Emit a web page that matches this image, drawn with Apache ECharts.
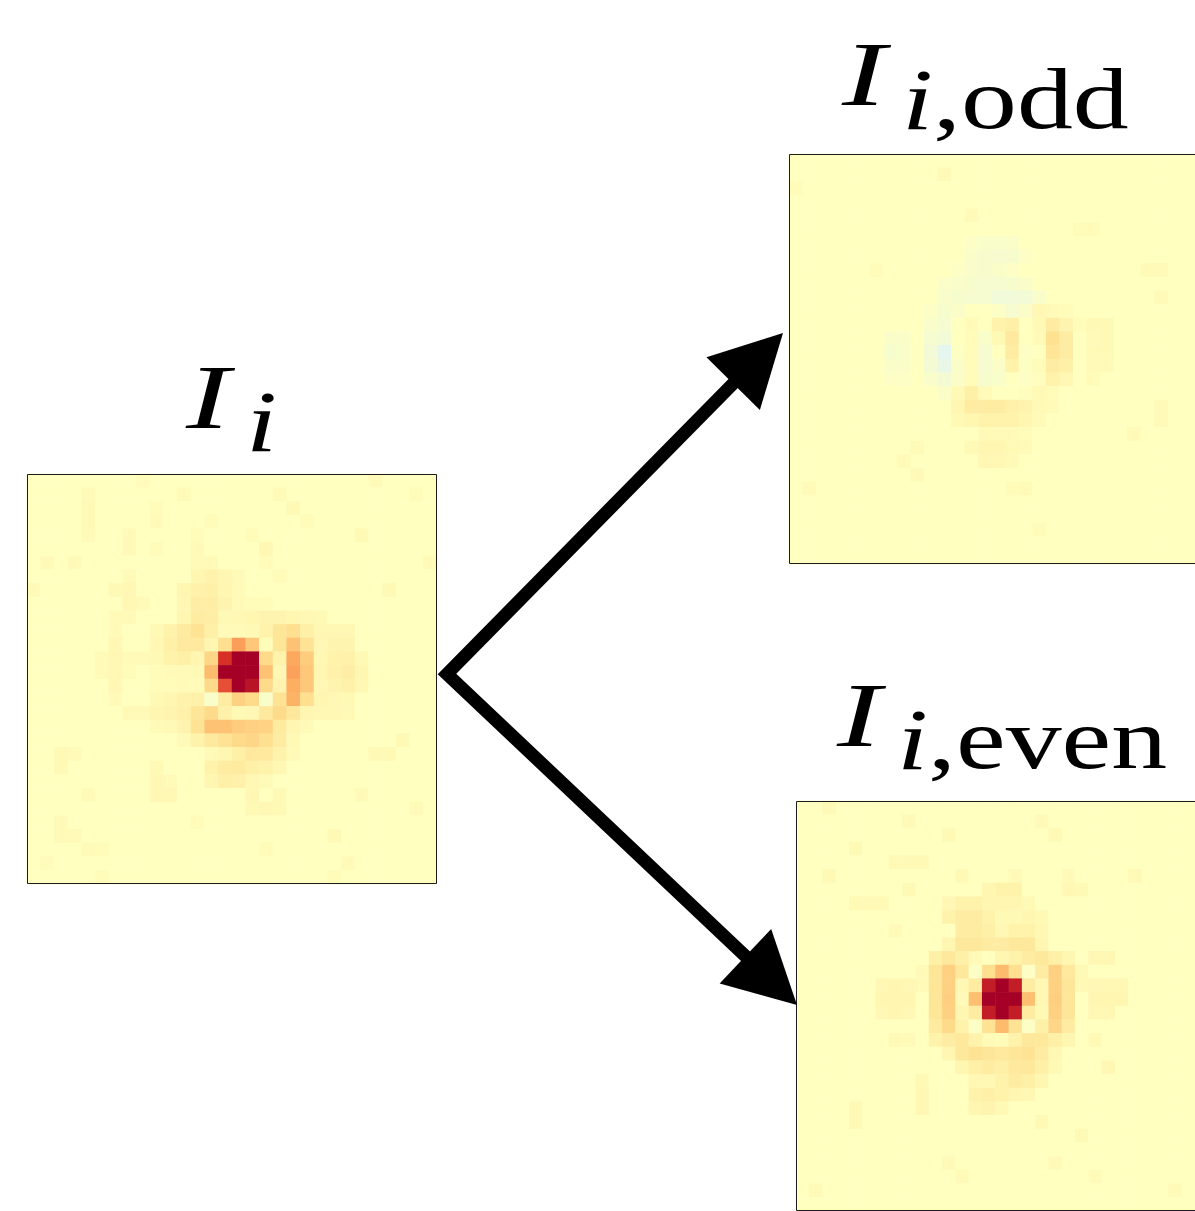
<!DOCTYPE html>
<html>
<head>
<meta charset="utf-8">
<title>Odd / even decomposition</title>
<script src="https://cdn.jsdelivr.net/npm/echarts@6/dist/echarts.min.js"></script>
<style>
  html, body { margin: 0; padding: 0; background: #ffffff; }
  #chart { width: 1195px; height: 1211px; }
</style>
</head>
<body>
<div id="chart"></div>
<script>
// 30 x 30 response maps, values in percent of the colour-scale limit (row 0 = top row)
const cellIndex = Array.from({ length: 30 }, (_, i) => i);

const inputRows = [
  [0,0,0,0,0,0,0,0,2,0,  0,0,0,0,0,0,0,0,0,0,  0,0,0,0,0,3,0,0,0,0],
  [0,0,0,0,3,0,0,0,0,0,  0,3,0,0,0,0,0,0,3,0,  0,0,0,0,0,0,0,0,2,0],
  [0,0,0,0,4,0,0,0,0,2,  0,0,0,0,0,0,0,0,0,4,  0,0,0,0,0,0,0,0,0,0],
  [0,0,0,0,4,0,0,0,0,3,  0,0,0,2,0,0,0,0,0,0,  2,0,0,0,0,0,0,0,0,0],
  [0,0,0,0,3,0,0,3,0,0,  0,0,2,0,0,0,2,0,0,0,  0,0,0,0,4,0,0,0,0,0],
  [0,0,0,0,0,0,0,3,0,2,  0,0,3,0,0,0,0,5,0,0,  0,0,0,0,0,0,0,0,0,0],
  [0,3,0,3,0,0,0,0,0,0,  0,0,3,3,0,0,0,2,0,0,  0,0,0,0,0,0,0,0,0,3],
  [0,0,0,0,0,0,0,3,0,0,  0,0,6,8,6,3,0,0,2,0,  0,0,0,0,0,0,0,0,0,0],
  [3,0,0,0,0,0,4,5,0,0,  0,6,9,10,6,3,0,0,0,0,  0,0,0,0,0,0,4,0,0,0],
  [0,0,0,0,0,0,0,5,3,0,  0,5,11,11,7,3,2,2,0,0,  0,0,0,0,0,0,0,0,0,0],
  [0,0,0,0,0,0,3,3,0,0,  0,6,12,11,4,5,6,7,7,6,  5,4,0,0,0,0,0,0,0,0],
  [0,0,0,0,0,0,3,0,0,4,  8,13,18,10,3,3,4,8,16,20,  10,5,5,5,0,0,0,0,0,0],
  [0,0,0,0,0,0,5,0,0,5,  10,14,14,6,20,45,30,2,16,32,  18,5,7,7,0,0,0,0,0,0],
  [0,0,0,0,0,3,5,3,3,4,  8,10,6,24,80,100,100,22,8,42,  28,5,8,9,4,0,0,0,0,0],
  [0,0,0,0,0,3,5,2,0,2,  3,3,4,35,100,100,100,32,5,44,  30,6,9,11,6,0,0,0,0,0],
  [0,0,0,0,0,0,5,0,0,2,  2,3,2,22,70,100,92,22,7,40,  30,5,7,9,5,0,0,0,0,0],
  [0,0,0,0,0,0,3,0,0,4,  6,8,9,-4,12,26,22,-4,18,38,  20,6,5,4,0,0,0,0,0,0],
  [0,0,0,0,0,0,0,4,4,6,  7,9,16,22,9,4,5,14,22,15,  6,5,5,4,0,0,0,0,0,0],
  [0,0,0,0,0,0,0,0,0,3,  4,7,18,32,32,28,26,25,13,6,  3,0,0,0,0,0,0,0,0,0],
  [0,0,0,0,0,0,0,0,0,0,  0,3,8,14,18,22,24,20,12,4,  0,0,0,0,0,0,0,4,0,0],
  [0,0,4,3,0,0,0,0,0,0,  0,0,0,3,6,10,14,14,8,3,  0,0,0,0,0,4,4,0,0,0],
  [0,0,4,0,0,0,0,0,0,4,  0,0,0,8,12,13,10,8,5,0,  0,0,0,0,0,0,0,0,0,0],
  [0,0,0,0,0,0,0,0,0,5,  3,0,0,6,10,9,5,3,0,0,  0,0,0,0,0,0,0,0,0,0],
  [0,0,0,0,3,0,0,0,0,5,  5,0,0,0,0,0,5,0,4,0,  0,0,0,0,3,0,0,0,0,0],
  [0,0,0,0,0,0,0,0,0,0,  0,0,0,0,0,0,4,5,4,0,  0,0,0,0,0,0,0,0,3,0],
  [0,0,3,0,0,0,0,0,0,0,  0,0,2,0,0,0,0,0,0,0,  0,0,0,0,0,0,0,0,0,0],
  [0,0,3,3,0,0,0,0,0,0,  0,0,0,0,0,0,0,0,0,0,  0,0,4,0,0,0,0,0,0,0],
  [0,0,0,0,3,2,0,0,0,0,  0,0,0,0,0,0,0,2,0,0,  0,0,0,0,0,0,0,0,0,0],
  [0,2,0,0,0,0,0,0,0,0,  0,0,0,0,0,0,0,0,0,0,  0,0,0,3,0,0,0,0,0,0],
  [0,0,0,0,0,2,0,0,0,0,  0,0,0,0,0,0,0,0,0,0,  0,0,2,0,0,0,0,0,0,0]
];

const oddRows = [
  [0,0,0,0,0,0,0,0,0,0,  0,0,0,0,0,0,0,0,0,0,  0,0,0,0,0,0,0,0,0,0],
  [0,0,0,0,0,0,0,0,0,0,  0,3,0,0,0,0,0,0,0,0,  0,0,0,0,0,0,0,0,0,0],
  [2,0,0,0,0,0,0,0,0,0,  0,0,0,0,0,0,0,0,0,0,  0,0,0,0,0,0,0,0,0,0],
  [0,0,0,0,0,0,0,0,0,0,  0,0,0,0,0,0,0,0,0,0,  0,0,0,0,0,0,0,0,0,0],
  [0,0,0,0,0,0,0,0,0,0,  0,0,0,3,0,0,0,0,0,0,  0,0,0,0,0,0,0,0,0,0],
  [0,0,0,0,0,0,0,0,0,0,  0,0,0,0,0,0,0,0,0,0,  0,2,2,0,0,0,0,0,0,0],
  [0,0,0,0,0,0,0,0,0,0,  0,0,0,-2,-4,-4,-3,0,0,0,  0,0,0,0,0,0,0,0,0,0],
  [0,0,0,0,0,0,0,0,0,0,  0,0,0,-4,-5,-6,-5,-2,0,0,  0,0,0,0,0,0,0,0,0,0],
  [0,0,0,0,0,0,2,0,0,0,  0,0,-2,-4,-5,-3,-2,0,0,0,  0,0,0,0,0,0,3,3,0,0],
  [0,0,0,0,0,0,0,0,0,0,  0,-3,-4,-5,-6,-6,-5,-3,0,0,  0,0,0,0,0,0,0,0,0,0],
  [0,0,0,0,0,0,0,0,0,0,  0,-4,-5,-6,-6,-9,-9,-8,-4,0,  0,0,0,0,0,0,0,3,0,0],
  [0,0,0,0,0,0,0,0,0,0,  -2,-5,-3,0,0,-2,-6,-3,5,3,  2,0,0,0,0,0,0,0,0,0],
  [0,0,0,0,0,0,0,0,0,0,  -4,-6,0,3,0,8,10,0,4,12,  7,2,4,4,0,0,0,0,0,0],
  [0,0,0,0,0,0,0,-3,-3,0,  -6,-8,0,2,-4,4,14,0,3,19,  12,0,3,4,0,0,0,0,0,0],
  [0,0,0,0,0,0,0,-5,-4,0,  -8,-17,-1,2,-6,0,12,-2,0,17,  12,0,4,4,0,0,0,0,0,0],
  [0,0,0,0,0,0,0,-3,-3,0,  -7,-14,-3,2,-6,-3,8,-1,2,12,  10,0,3,3,0,0,0,0,0,0],
  [0,0,0,0,0,0,0,-2,-2,0,  -4,-7,-3,2,-5,-4,0,-2,1,8,  5,0,2,0,0,0,0,0,0,0],
  [0,0,0,0,0,0,0,0,0,0,  0,-3,4,10,3,0,0,1,4,2,  0,0,0,0,0,0,0,0,0,0],
  [0,0,0,0,0,0,0,0,0,0,  0,0,6,12,12,12,9,7,4,3,  0,0,0,0,0,0,0,3,0,0],
  [0,0,0,0,0,0,0,0,0,0,  0,0,4,6,8,8,8,6,3,0,  0,0,0,0,0,0,0,3,0,0],
  [0,0,0,0,0,0,0,0,0,0,  0,0,0,0,3,3,3,2,0,0,  0,0,0,0,0,3,0,0,0,0],
  [0,0,0,0,0,0,0,0,0,3,  0,0,0,4,6,6,4,3,0,0,  0,0,0,0,0,0,0,0,0,0],
  [0,0,0,0,0,0,0,0,3,0,  0,0,0,0,5,5,3,0,0,0,  0,0,0,0,0,0,0,0,0,0],
  [0,0,0,0,0,0,0,0,0,3,  0,0,0,0,0,0,0,0,0,0,  0,0,0,0,0,0,0,0,0,0],
  [0,3,0,0,0,0,0,0,0,0,  0,0,0,0,0,0,2,3,0,0,  0,0,0,0,0,0,0,0,0,0],
  [0,0,0,0,0,0,0,0,0,0,  0,0,0,0,0,0,0,0,0,0,  0,0,0,0,0,0,0,0,0,0],
  [0,0,0,0,0,0,0,0,0,0,  0,0,0,0,0,0,0,0,0,0,  0,0,0,0,0,0,0,0,0,0],
  [0,0,0,0,0,0,0,0,0,0,  0,0,0,0,0,0,0,0,2,0,  0,0,0,0,0,0,0,0,0,0],
  [0,0,0,0,0,0,0,0,0,0,  0,0,0,0,0,0,0,0,0,0,  0,0,0,0,0,0,0,0,0,0],
  [0,0,0,0,0,0,0,0,0,0,  0,0,0,0,0,0,0,0,0,0,  0,0,0,0,0,0,0,0,0,0]
];

const evenRows = [
  [0,0,4,0,0,0,0,0,0,0,  0,0,0,0,0,0,0,0,0,0,  0,0,0,0,0,0,0,0,0,0],
  [0,0,0,0,0,0,0,0,3,0,  0,0,0,0,0,0,0,0,3,0,  0,0,0,0,0,0,0,0,0,0],
  [0,0,0,0,0,0,0,0,0,0,  0,4,0,0,0,0,0,0,0,4,  0,0,0,0,0,0,0,0,0,0],
  [0,0,0,0,4,0,0,0,0,0,  0,0,0,0,0,0,0,0,0,0,  0,0,0,0,0,0,0,0,0,0],
  [0,0,0,0,0,0,0,4,4,4,  0,0,0,0,0,0,0,0,0,0,  0,0,0,0,0,0,0,0,0,0],
  [0,0,4,0,0,0,0,0,0,0,  0,0,4,0,0,0,3,0,0,0,  3,0,0,0,0,4,0,0,0,0],
  [0,0,0,0,0,0,0,0,4,0,  0,0,0,0,6,8,8,0,0,0,  5,4,0,0,0,0,0,0,0,0],
  [0,0,0,0,4,4,4,0,0,0,  0,5,8,8,6,6,6,4,0,0,  0,0,0,0,0,0,0,0,0,0],
  [0,0,0,0,0,0,0,0,0,0,  0,8,12,12,8,4,4,6,4,0,  0,0,0,0,0,0,0,0,0,0],
  [0,0,0,0,0,0,0,3,0,0,  0,0,12,12,10,5,8,8,5,0,  0,0,0,0,0,0,0,0,0,0],
  [0,0,0,0,0,0,0,0,0,0,  0,6,15,15,12,12,15,15,6,0,  0,0,0,0,0,0,0,0,0,0],
  [0,0,0,0,0,0,0,0,0,0,  10,15,10,3,0,6,8,12,15,10,  6,0,5,5,0,0,0,0,0,0],
  [0,0,0,0,0,0,0,0,0,3,  16,26,15,-2,20,35,20,-2,12,26,  14,4,0,0,0,0,0,0,0,0],
  [0,0,0,0,0,0,5,6,5,3,  16,26,5,12,88,100,88,12,5,26,  16,4,5,5,5,0,0,0,0,0],
  [0,0,0,0,0,0,6,6,6,0,  16,27,3,33,100,100,100,33,5,27,  16,0,6,6,6,0,0,0,0,0],
  [0,0,0,0,0,0,5,6,5,0,  16,26,6,12,88,100,88,12,4,26,  16,0,5,5,0,0,0,0,0,0],
  [0,0,0,0,0,0,0,0,0,0,  13,22,8,-2,18,35,18,-2,10,24,  12,0,0,0,0,0,0,0,0,0],
  [0,0,0,0,0,0,0,4,3,0,  8,12,15,8,3,2,8,15,15,10,  6,0,4,0,0,0,0,0,0,0],
  [0,0,0,0,0,0,0,0,0,0,  0,6,15,18,16,14,16,18,12,5,  0,0,0,0,0,0,0,0,0,0],
  [0,0,0,0,0,0,0,0,0,0,  0,0,6,10,12,10,14,15,10,4,  0,0,0,5,0,0,0,0,0,0],
  [0,0,0,0,0,0,0,0,0,4,  0,0,0,5,5,8,12,10,6,0,  0,0,0,0,0,0,0,0,0,0],
  [0,0,0,0,0,0,0,0,0,5,  0,0,0,8,10,8,6,5,0,0,  0,0,0,0,0,0,0,0,0,0],
  [0,0,0,0,4,0,0,0,0,5,  0,0,0,6,7,4,0,0,0,0,  0,0,0,0,0,0,0,0,0,0],
  [0,0,0,0,4,0,0,0,0,0,  0,0,0,0,0,0,0,0,4,0,  0,0,0,0,0,0,0,0,0,0],
  [0,0,0,0,0,0,0,0,0,0,  0,0,0,0,0,0,0,0,0,0,  0,4,0,0,0,0,0,0,0,0],
  [0,0,0,0,0,0,0,0,0,0,  0,0,0,0,0,0,0,0,0,0,  0,0,0,0,0,0,0,0,0,0],
  [0,0,0,0,0,0,0,0,0,0,  0,3,0,0,0,0,0,0,0,3,  0,0,0,0,0,0,0,0,0,0],
  [0,0,0,0,0,0,0,0,0,0,  0,0,3,0,0,0,0,0,0,0,  0,0,3,0,0,0,0,0,0,0],
  [0,3,0,0,0,0,0,0,0,0,  0,0,0,0,0,0,0,0,0,0,  0,0,0,0,0,0,0,0,3,0],
  [0,0,0,0,0,0,0,0,0,0,  0,0,0,0,0,0,0,0,0,0,  0,0,0,0,0,0,0,0,0,0]
];

// diverging colour scale (RdYlBu reversed), symmetric about zero
const colourStops = ['#313695', '#4575b4', '#74add1', '#abd9e9', '#e0f3f8', '#ffffbf',
                     '#fee090', '#fdae61', '#f46d43', '#d73027', '#a50026'];
const scaleLimit = 100;

// panel boxes
const panels = [
  { rows: inputRows, left: 27,  top: 474, size: 410 },
  { rows: oddRows,   left: 789, top: 154, size: 410 },
  { rows: evenRows,  left: 796, top: 801, size: 410 }
];

function toCells(rows) {
  const out = [];
  rows.forEach((row, r) => row.forEach((v, c) => out.push([c, r, v])));
  return out;
}

const serif = '"Liberation Serif", "DejaVu Serif", serif';

// arrows: common start point on the input panel edge, two tips
const arrowStart = [447, 674];
const arrowTips = [[783, 333], [797, 1005]];
const headLen = 71, headHalf = 37.5, shaftWidth = 13;

function arrowGraphics() {
  const els = [];
  const bases = [];
  arrowTips.forEach(tip => {
    const dx = tip[0] - arrowStart[0], dy = tip[1] - arrowStart[1];
    const len = Math.hypot(dx, dy);
    const ux = dx / len, uy = dy / len;
    const nx = -uy, ny = ux;
    const bx = tip[0] - headLen * ux, by = tip[1] - headLen * uy;
    bases.push([bx + 6 * ux, by + 6 * uy]);
    els.push({
      type: 'polygon', z: 20,
      shape: { points: [tip, [bx + headHalf * nx, by + headHalf * ny], [bx - headHalf * nx, by - headHalf * ny]] },
      style: { fill: '#000000' }
    });
  });
  els.unshift({
    type: 'polyline', z: 19,
    shape: { points: [bases[0], arrowStart, bases[1]] },
    style: { stroke: '#000000', lineWidth: shaftWidth, lineJoin: 'miter', miterLimit: 10, lineCap: 'butt', fill: null }
  });
  return els;
}

// math-style label: italic I with a subscript (italic i followed by upright text)
const mainSize = 91, subSize = 86, mainStretch = 1.45, subStretch = 1.3;
function titleGraphics(iX, iBaseline, subX, subBaseline, subText) {
  return [
    {
      type: 'text', z: 30, x: iX, y: iBaseline - mainSize * 0.28, scaleX: mainStretch,
      style: { text: 'I', font: 'italic ' + mainSize + 'px ' + serif, fill: '#000', align: 'left', verticalAlign: 'middle' }
    },
    {
      type: 'text', z: 30, x: subX, y: subBaseline - subSize * 0.28, scaleX: subStretch,
      style: {
        text: '{it|i}' + (subText ? '{rm|' + subText + '}' : ''),
        fill: '#000', align: 'left', verticalAlign: 'middle',
        rich: {
          it: { font: 'italic ' + subSize + 'px ' + serif, fill: '#000' },
          rm: { font: subSize + 'px ' + serif, fill: '#000' }
        }
      }
    }
  ];
}

const frames = panels.map(p => ({
  type: 'rect', z: 10,
  shape: { x: p.left + 0.5, y: p.top + 0.5, width: p.size - 1, height: p.size - 1 },
  style: { fill: null, stroke: '#1c1c1c', lineWidth: 1 }
}));

const chart = echarts.init(document.getElementById('chart'), null, { renderer: 'canvas' });

chart.setOption({
  backgroundColor: '#ffffff',
  animation: false,
  grid: panels.map(p => ({ left: p.left, top: p.top, width: p.size, height: p.size, show: false })),
  xAxis: panels.map((p, i) => ({ type: 'category', gridIndex: i, data: cellIndex, show: false })),
  yAxis: panels.map((p, i) => ({ type: 'category', gridIndex: i, data: cellIndex, inverse: true, show: false })),
  visualMap: {
    type: 'continuous', show: false, min: -scaleLimit, max: scaleLimit, dimension: 2,
    seriesIndex: [0, 1, 2], inRange: { color: colourStops }
  },
  series: panels.map((p, i) => ({
    type: 'heatmap', xAxisIndex: i, yAxisIndex: i,
    data: toCells(p.rows),
    itemStyle: { borderWidth: 0 },
    emphasis: { disabled: true },
    progressive: 0
  })),
  graphic: [
    ...frames,
    ...arrowGraphics(),
    ...titleGraphics(186, 430, 246, 452, ''),
    ...titleGraphics(842, 107, 902, 130, ',odd'),
    ...titleGraphics(837, 748, 897, 770, ',even')
  ]
});
</script>
</body>
</html>
